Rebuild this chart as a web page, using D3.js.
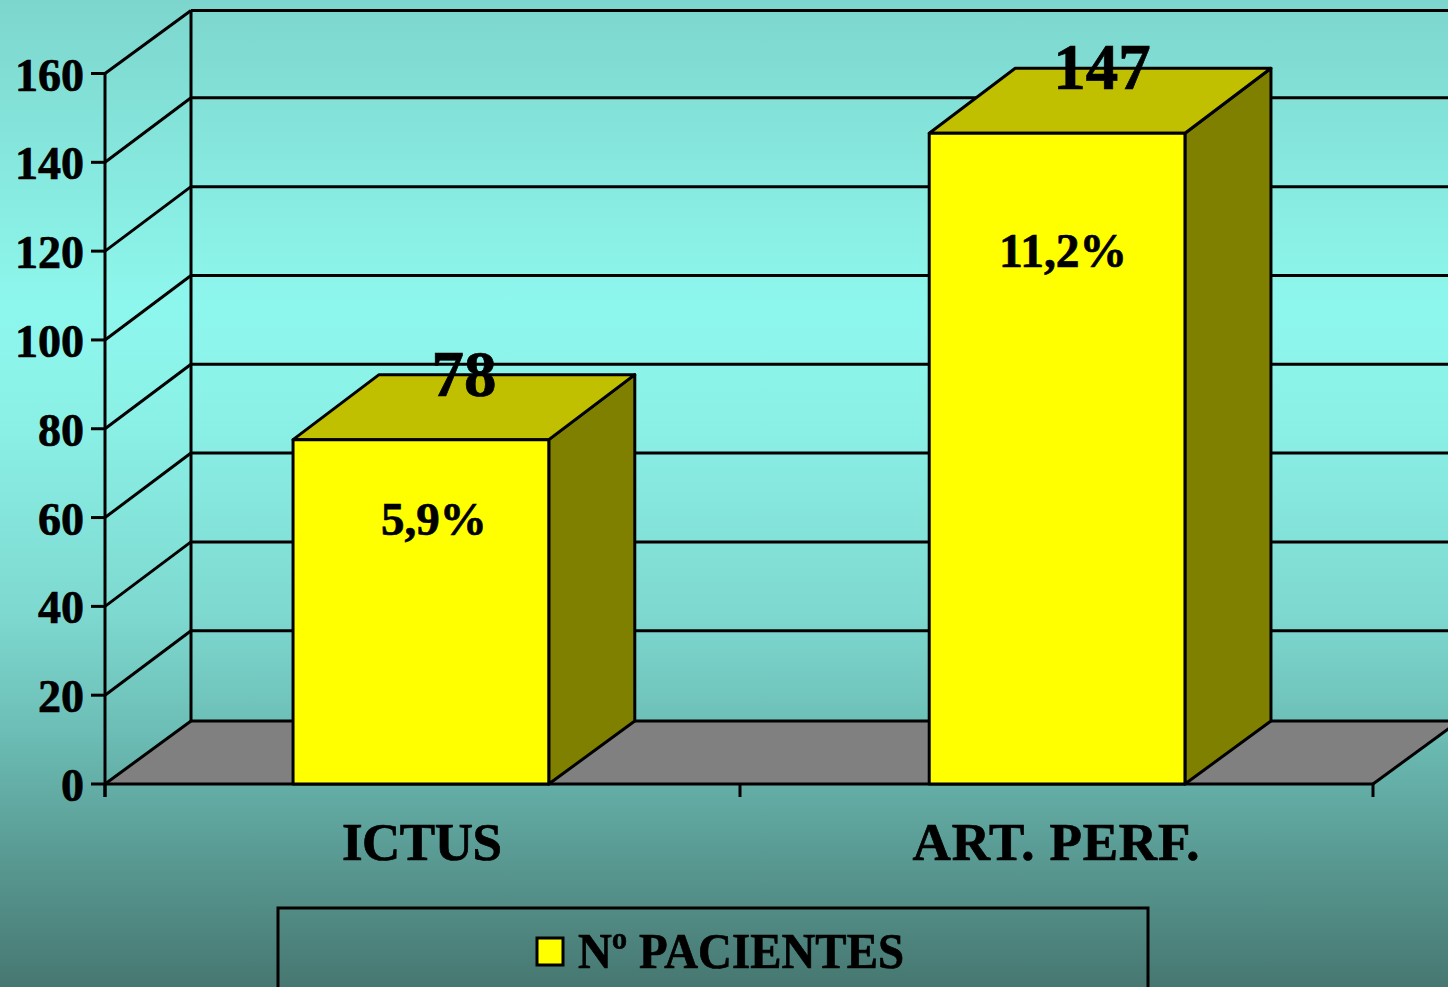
<!DOCTYPE html>
<html><head><meta charset="utf-8">
<script src="https://cdn.jsdelivr.net/npm/d3@7"></script>
<style>html,body{margin:0;padding:0;overflow:hidden;background:#4a7a74}svg{display:block}text{font-family:"Liberation Serif",serif;font-weight:bold;fill:#000;stroke:#000;stroke-width:.7px}</style>
</head><body><script>
const categories=["ICTUS","ART. PERF."];
const patientCounts=[78,147];
const percentLabels=["5,9%","11,2%"];
const yTicks=[0,20,40,60,80,100,120,140,160];
const legendLabel="Nº PACIENTES";

const W=1448,H=987,dx=86,dy=-63;
const y=d3.scaleLinear().domain([0,160]).range([784,73.5]);
const x=d3.scaleBand().domain(categories).range([105,1373]).paddingInner(0.598).paddingOuter(0.2956);
const svg=d3.select("body").append("svg").attr("width",W).attr("height",H);
const defs=svg.append("defs");
const g=defs.append("linearGradient").attr("id","bg").attr("x1",0).attr("x2",0).attr("y1",0).attr("y2",1);
[[0,"#7dd6cd"],[0.31,"#8ef7ed"],[0.42,"#8bf1e7"],[0.62,"#7ed9d0"],[0.74,"#6cbeb6"],[0.86,"#5a9c95"],[1,"#477771"]]
 .forEach(([o,c])=>g.append("stop").attr("offset",o).attr("stop-color",c));
svg.append("rect").attr("width",W).attr("height",H).attr("fill","url(#bg)");

const x0=x.range()[0],x1=x.range()[1],y0=y(0);
const line=(a,b,c,d,w=3)=>svg.append("line").attr("x1",a).attr("y1",b).attr("x2",c).attr("y2",d).attr("stroke","#000").attr("stroke-width",w);

// floor
svg.append("path").attr("d",`M${x0},${y0}L${x0+dx},${y0+dy}L${x1+dx},${y0+dy}L${x1},${y0}Z`).attr("fill","#808080");
// back wall + side wall grid
yTicks.forEach(v=>{
  const d=(v===0||v===160)?dy:dy-1.5;
  line(x0,y(v),x0+dx,y(v)+d);
  line(x0+dx,y(v)+d,x1+dx,y(v)+d);
});
line(x0+dx,y(160)+dy,x0+dx,y0+dy);
line(x0,y(160),x0,y0+13);
line(x0,y0,x1,y0);
line(x1,y0,x1+dx,y0+dy);
// ticks
yTicks.forEach(v=>{
  line(x0-14,y(v),x0,y(v));
  svg.append("text").attr("x",x0-21).attr("y",y(v)+17).attr("text-anchor","end").attr("font-size",46).text(v);
});
[x0,(x0+x1)/2+1,x1].forEach(t=>line(t,y0,t,y0+13));

// bars
categories.forEach((c,i)=>{
  const l=x(c),r=l+x.bandwidth(),t=y(patientCounts[i])+2,tb=t-65;
  const st=s=>s.attr("stroke","#000").attr("stroke-width",3).attr("stroke-linejoin","round");
  st(svg.append("path").attr("d",`M${r},${t}L${r+dx},${tb}L${r+dx},${y0+dy}L${r},${y0}Z`).attr("fill","#808000"));
  st(svg.append("path").attr("d",`M${l},${t}L${l+dx},${tb}L${r+dx},${tb}L${r},${t}Z`).attr("fill","#c0c000"));
  st(svg.append("rect").attr("x",l).attr("y",t).attr("width",x.bandwidth()).attr("height",y0-t).attr("fill","#ffff00"));
});
// labels
const valOff=[43,45], valY=[-42,-42], valSize=[65,65], pctOff=[13,6], pctY=[97,136], pctSize=[47,47.5];
const catOff=[1,-1], catLen=[160,287];
categories.forEach((c,i)=>{
  const cx=x(c)+x.bandwidth()/2,t=y(patientCounts[i]);
  svg.append("text").attr("x",cx+valOff[i]).attr("y",t+valY[i]).attr("text-anchor","middle").attr("font-size",valSize[i]).text(patientCounts[i]);
  svg.append("text").attr("x",cx+pctOff[i]).attr("y",t+pctY[i]).attr("text-anchor","middle").attr("font-size",pctSize[i]).text(percentLabels[i]);
  svg.append("text").attr("x",cx+catOff[i]).attr("y",860).attr("text-anchor","middle").attr("font-size",53).attr("textLength",catLen[i]).text(c);
});
// legend
svg.append("rect").attr("x",278).attr("y",908).attr("width",870).attr("height",90).attr("fill","none").attr("stroke","#000").attr("stroke-width",3);
svg.append("rect").attr("x",537).attr("y",938).attr("width",26).attr("height",27).attr("fill","#ffff00").attr("stroke","#000").attr("stroke-width",3);
svg.append("text").attr("x",578).attr("y",968).attr("font-size",50).attr("textLength",326).attr("lengthAdjust","spacingAndGlyphs").text(legendLabel);
</script></body></html>
